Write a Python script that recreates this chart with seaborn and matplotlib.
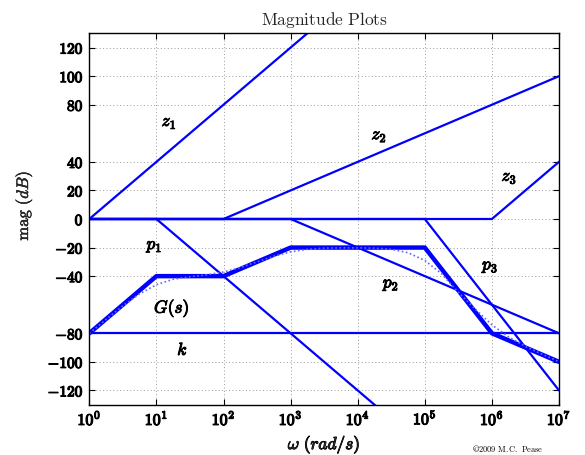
import numpy as np
import pandas as pd
import matplotlib
matplotlib.use("Agg")
import matplotlib.pyplot as plt
import matplotlib.patheffects as pe
import seaborn as sns

# ---- data (asymptotic Bode magnitude pieces, dB) ----
z1_w = [1, 1e7];                z1_db = [0, 280]
z2_w = [1, 1e2, 1e7];           z2_db = [0, 0, 100]
z3_w = [1, 1e6, 1e7];           z3_db = [0, 0, 40]
p1_w = [1, 1e1, 1e7];           p1_db = [0, 0, -240]
p2_w = [1, 1e3, 1e7];           p2_db = [0, 0, -80]
p3_w = [1, 1e5, 1e7];           p3_db = [0, 0, -120]
k_w = [1, 1e7];                 k_db = [-80, -80]
G_w = [1, 1e1, 1e2, 1e3, 1e5, 1e6, 1e7]
G_db = [-80, -40, -40, -20, -20, -80, -100]
Gact_exp = [0, 0.25, 0.5, 0.75, 1.0, 1.25, 1.5, 1.75, 2.0, 2.25, 2.5, 2.75,
            3.0, 3.25, 3.5, 3.75, 4.0, 4.25, 4.5, 4.75, 5.0, 5.25, 5.5, 5.75,
            6.0, 6.25, 6.5, 6.75, 7.0]
Gact_db = [-80.1, -70.3, -60.8, -52.4, -46.0, -42.2, -40.4, -39.1, -37.1, -34.0,
           -30.0, -26.1, -23.0, -21.2, -20.4, -20.2, -20.2, -20.4, -21.2, -23.6,
           -29.0, -38.3, -51.4, -63.0, -74.1, -82.6, -89.2, -94.7, -99.9]

xtick_exp = [0, 1, 2, 3, 4, 5, 6, 7]
yticks = [-120, -100, -80, -40, -20, 0, 20, 40, 80, 100, 120]

labels = [(r"$z_1$", 10**1.19, 67.6), (r"$z_2$", 10**4.32, 58.3),
          (r"$z_3$", 10**6.26, 29.2), (r"$p_1$", 10**0.975, -19.3),
          (r"$p_2$", 10**4.50, -46.2), (r"$p_3$", 10**5.98, -33.6),
          (r"$G(s)$", 10**1.23, -62.4), (r"$k$", 10**1.39, -92.0)]

sns.set_style("ticks")
plt.rcParams["mathtext.fontset"] = "cm"
plt.rcParams["font.family"] = ["DejaVu Serif"]

fig = plt.figure(figsize=(5.85, 4.56), dpi=100)
ax = fig.add_axes([89.3 / 585, 1 - 405.7 / 456, (559 - 89.3) / 585, (405.7 - 34.3) / 456])
ax.set_xscale("log")

blue = (0, 0, 1)
for w, db in [(z1_w, z1_db), (z2_w, z2_db), (z3_w, z3_db), (p1_w, p1_db),
              (p2_w, p2_db), (p3_w, p3_db), (k_w, k_db)]:
    sns.lineplot(x=w, y=db, ax=ax, color=blue, lw=1.6, estimator=None, sort=False)
sns.lineplot(x=G_w, y=G_db, ax=ax, color=blue, lw=3.2, estimator=None, sort=False)
sns.lineplot(x=[10.0**e for e in Gact_exp], y=Gact_db, ax=ax, color=(0.4, 0.4, 1.0),
             lw=1.2, ls=(0, (1, 1.5)), estimator=None, sort=False)

ax.set_xlim(1, 1e7)
ax.set_ylim(-130, 130)
ax.set_xticks([10.0**e for e in xtick_exp])
ax.set_xticklabels([r"$\mathbf{10^{%d}}$" % e for e in xtick_exp], fontsize=11.5)
ax.minorticks_off()
ax.set_yticks(yticks)
ax.set_yticklabels([r"$\mathbf{%d}$" % v if v >= 0 else r"$\mathbf{-%d}$" % (-v) for v in yticks],
                   fontsize=11)
ax.tick_params(direction="in", top=True, right=True, length=4, width=0.8, pad=4, colors="black")
for s in ax.spines.values():
    s.set_color("black")
    s.set_linewidth(1.0)
ax.grid(True, linestyle=(0, (1, 2.5)), color="#9a9a9a", lw=0.7)
ax.set_axisbelow(True)

ax.set_title(r"$\mathrm{Magnitude\ Plots}$", fontsize=12.5, pad=7)
stroke = [pe.withStroke(linewidth=0.7, foreground="black")]
tstroke = [pe.withStroke(linewidth=0.85, foreground="black")]
xl = ax.set_xlabel(r"$\omega\ (rad/s)$", fontsize=12.5, labelpad=3)
xl.set_path_effects(stroke)
yl = ax.set_ylabel(r"$\mathrm{mag}\ (dB)$", fontsize=12)
yl.set_path_effects([pe.withStroke(linewidth=0.3, foreground="black")])
ax.yaxis.set_label_coords(-0.116, 0.536)
for t in ax.get_xticklabels() + ax.get_yticklabels():
    t.set_path_effects(tstroke)

for txt, x, y in labels:
    ax.text(x, y, txt, fontsize=12.5, ha="center", va="center", color="black",
            path_effects=stroke)

fig.text(472 / 585, 2 / 456, r"$\copyright\mathrm{2009\ M.C.\ Pease}$", fontsize=6,
         va="bottom", ha="left", color="black")

fig.savefig("out.png", dpi=100)
